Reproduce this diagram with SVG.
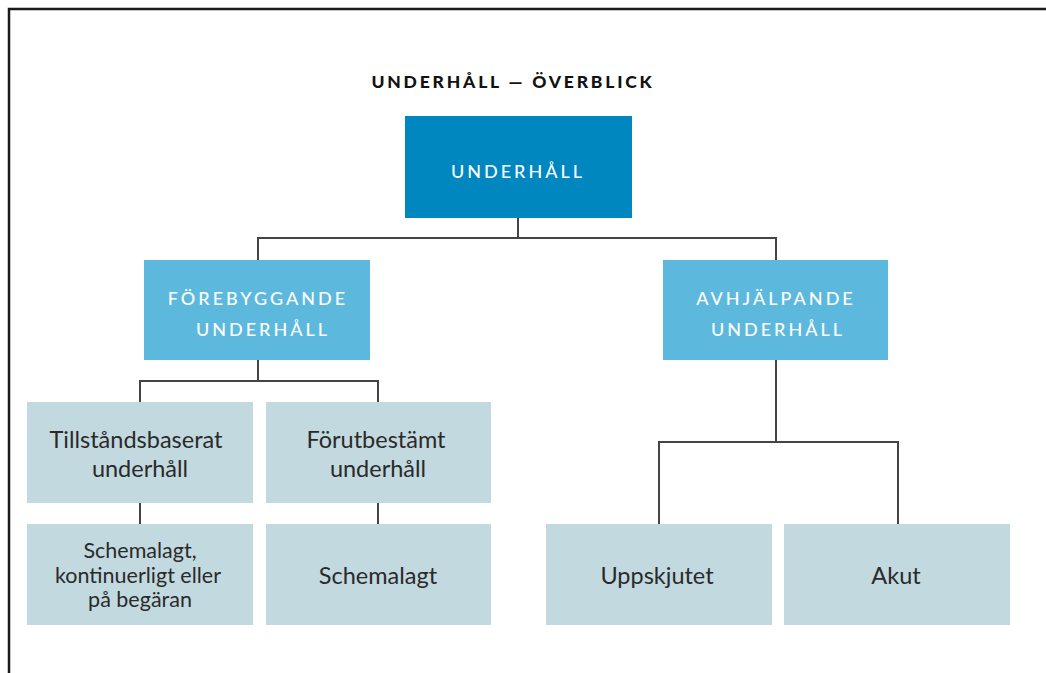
<svg xmlns="http://www.w3.org/2000/svg" width="1046" height="673" viewBox="0 0 1046 673">
<style>
.frame{fill:none;stroke:#1a1a1a;stroke-width:2.5}
.root{fill:#0087bf}
.mid{fill:#5cb9dd}
.leaf{fill:#c2d9e0}
.cap{font-family:Lato,"Open Sans",sans-serif;font-size:18px;fill:#ffffff;letter-spacing:3px;text-anchor:middle;font-weight:500}
.title{font-family:Lato,"Open Sans",sans-serif;font-size:17.5px;font-weight:900;fill:#111111;letter-spacing:2.8px;text-anchor:middle}
.lt{font-family:Lato,"Open Sans",sans-serif;font-size:23.5px;fill:#2a2a2a;text-anchor:middle}
.st{font-family:Lato,"Open Sans",sans-serif;font-size:21.5px;fill:#2a2a2a;text-anchor:middle}
.conn{fill:none;stroke:#444444;stroke-width:2}
</style>
<rect x="0" y="0" width="1046" height="673" fill="#ffffff"/>
<rect class="frame" x="9" y="9" width="1060" height="690"/>
<text class="title" x="513" y="88">UNDERHÅLL — ÖVERBLICK</text>
<g id="connectors">
<path class="conn" d="M518 218 V238 M258 260 V238 H776 V260"/>
<path class="conn" d="M258 360 V381 M140 402 V381 H378 V402"/>
<path class="conn" d="M140 503 V524 M378 503 V524"/>
<path class="conn" d="M776 360 V442 M659 524 V442 H898 V524"/>
</g>
<g id="underhall">
<rect class="root" x="405" y="116" width="227" height="102"/>
<text class="cap" x="518" y="178">UNDERHÅLL</text>
</g>
<g id="forebyggande">
<rect class="mid" x="144" y="260" width="226" height="100"/>
<text class="cap" x="258" y="305">FÖREBYGGANDE</text>
<text class="cap" x="263" y="336">UNDERHÅLL</text>
</g>
<g id="avhjalpande">
<rect class="mid" x="663" y="260" width="225" height="100"/>
<text class="cap" x="776" y="305">AVHJÄLPANDE</text>
<text class="cap" x="778" y="336">UNDERHÅLL</text>
</g>
<g id="tillstandsbaserat">
<rect class="leaf" x="27" y="402" width="226" height="101"/>
<text class="lt" x="136" y="448">Tillståndsbaserat</text>
<text class="lt" x="140" y="477">underhåll</text>
</g>
<g id="forutbestamt">
<rect class="leaf" x="266" y="402" width="225" height="101"/>
<text class="lt" x="376" y="448">Förutbestämt</text>
<text class="lt" x="378" y="477">underhåll</text>
</g>
<g id="schemalagt-kont">
<rect class="leaf" x="27" y="524" width="226" height="101"/>
<text class="st" x="140" y="558">Schemalagt,</text>
<text class="st" x="138" y="583">kontinuerligt eller</text>
<text class="st" x="140" y="607">på begäran</text>
</g>
<g id="schemalagt">
<rect class="leaf" x="266" y="524" width="225" height="101"/>
<text class="lt" x="378" y="584">Schemalagt</text>
</g>
<g id="uppskjutet">
<rect class="leaf" x="546" y="524" width="226" height="101"/>
<text class="lt" x="657" y="584">Uppskjutet</text>
</g>
<g id="akut">
<rect class="leaf" x="784" y="524" width="226" height="101"/>
<text class="lt" x="896" y="584">Akut</text>
</g>
</svg>
